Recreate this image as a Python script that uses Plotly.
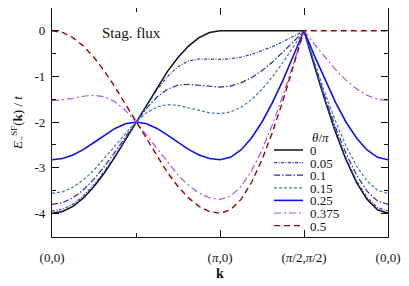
import plotly.graph_objects as go

# Path coordinate along (0,0) -> (pi,0) -> (pi/2,pi/2) -> (0,0), in units of pi per segment parameter
k_path = [0.0, 0.0625, 0.125, 0.1875, 0.25, 0.3125, 0.375, 0.4375, 0.5, 0.5625, 0.625, 0.6875,
          0.75, 0.8125, 0.875, 0.9375, 1.0, 1.0625, 1.125, 1.1875, 1.25, 1.3125, 1.375, 1.4375,
          1.5, 1.5625, 1.625, 1.6875, 1.75, 1.8125, 1.875, 1.9375, 2.0]

theta_labels = ["0", "0.05", "0.1", "0.15", "0.25", "0.375", "0.5"]

E_000 = [-4.000, -3.962, -3.848, -3.663, -3.414, -3.111, -2.765, -2.390, -2.000, -1.610, -1.235, -0.889,
         -0.586, -0.337, -0.152, -0.038, 0.000,
         0.000, 0.000, 0.000, 0.000, 0.000, 0.000, 0.000, 0.000,
         -0.780, -1.531, -2.222, -2.828, -3.326, -3.696, -3.923, -4.000]
E_005 = [-3.951, -3.913, -3.801, -3.618, -3.373, -3.076, -2.738, -2.374, -2.000, -1.633, -1.294, -1.004,
         -0.787, -0.663, -0.620, -0.621, -0.626,
         -0.614, -0.578, -0.520, -0.442, -0.348, -0.239, -0.122, 0.000,
         -0.771, -1.512, -2.195, -2.794, -3.285, -3.650, -3.875, -3.951]
E_010 = [-3.804, -3.768, -3.660, -3.485, -3.252, -2.972, -2.658, -2.327, -2.000, -1.700, -1.452, -1.280,
         -1.193, -1.176, -1.198, -1.225, -1.236,
         -1.212, -1.142, -1.028, -0.874, -0.687, -0.473, -0.241, 0.000,
         -0.742, -1.456, -2.114, -2.690, -3.163, -3.515, -3.731, -3.804]
E_015 = [-3.564, -3.530, -3.429, -3.267, -3.054, -2.801, -2.527, -2.252, -2.000, -1.799, -1.669, -1.619,
         -1.636, -1.690, -1.752, -1.799, -1.816,
         -1.781, -1.678, -1.510, -1.284, -1.009, -0.695, -0.354, 0.000,
         -0.695, -1.364, -1.980, -2.520, -2.963, -3.293, -3.496, -3.564]
E_025 = [-2.828, -2.801, -2.723, -2.601, -2.449, -2.288, -2.141, -2.038, -2.000, -2.038, -2.141, -2.288,
         -2.449, -2.601, -2.723, -2.801, -2.828,
         -2.774, -2.613, -2.352, -2.000, -1.571, -1.082, -0.552, 0.000,
         -0.552, -1.082, -1.571, -2.000, -2.352, -2.613, -2.774, -2.828]
E_0375 = [-1.531, -1.516, -1.479, -1.436, -1.414, -1.446, -1.556, -1.746, -2.000, -2.293, -2.598, -2.894,
          -3.162, -3.387, -3.555, -3.660, -3.696,
          -3.625, -3.414, -3.073, -2.613, -2.053, -1.414, -0.721, 0.000,
          -0.299, -0.586, -0.850, -1.082, -1.273, -1.414, -1.501, -1.531]
E_050 = [0.000, -0.038, -0.152, -0.337, -0.586, -0.889, -1.235, -1.610, -2.000, -2.390, -2.765, -3.111,
         -3.414, -3.663, -3.848, -3.962, -4.000,
         -3.923, -3.696, -3.326, -2.828, -2.222, -1.531, -0.780, 0.000,
         0.000, 0.000, 0.000, 0.000, 0.000, 0.000, 0.000, 0.000]

series = [E_000, E_005, E_010, E_015, E_025, E_0375, E_050]

x_tickvals = [0, 1, 1.5, 2]
x_ticktext = ["(0,0)", "(<i>π</i>,0)", "(<i>π</i>/2,<i>π</i>/2)", "(0,0)"]
y_tickvals = [0, -1, -2, -3, -4]
y_ticktext = ["0", "-1", "-2", "-3", "-4"]

styles = [
    dict(color="#111111", width=1.5, dash="solid"),
    dict(color="#3535d0", width=1.2, dash="3px,1.5px,1px,1.5px"),
    dict(color="#2a2ab0", width=1.2, dash="6px,2px,1.5px,2px"),
    dict(color="#3a78b8", width=1.2, dash="3px,2px"),
    dict(color="#0a14f0", width=1.6, dash="solid"),
    dict(color="#a64dff", width=1.2, dash="7px,3px,2px,3px"),
    dict(color="#a00000", width=1.4, dash="6px,4px"),
]

FONT = "Liberation Serif, DejaVu Serif, Times New Roman, serif"
fig = go.Figure()
for name, ys, st in zip(theta_labels, series, styles):
    fig.add_trace(go.Scatter(x=k_path, y=ys, mode="lines", name=name, line=st,
                             showlegend=False))

# page has an 8px body margin; figure offset accordingly
W, H = 393, 278
ML, MR, MT, MB = 44, 13, 0, 49
pw, ph = W - ML - MR, H - MT - MB
OFF = 8

def px_x(p):
    return (p - OFF - ML) / pw

def px_y(p):
    return (H - MB - (p - OFF)) / ph

# compact legend (drawn manually to match tight spacing)
leg_x0, leg_x1, leg_tx = 274, 303, 309
leg_top, leg_step = 150, 12.6
for i, (name, st) in enumerate(zip(theta_labels, styles)):
    yy = px_y(leg_top + i * leg_step)
    fig.add_shape(type="line", xref="paper", yref="paper", x0=px_x(leg_x0), x1=px_x(leg_x1),
                  y0=yy, y1=yy, line=st)
    fig.add_annotation(xref="paper", yref="paper", x=px_x(leg_tx), y=yy, text=name,
                       showarrow=False, xanchor="left", yanchor="middle", height=12, borderpad=0,
                       font=dict(family=FONT, size=13, color="#111"))
fig.add_annotation(xref="paper", yref="paper", x=px_x(320), y=px_y(137),
                   text="<i>θ</i>/<i>π</i>", showarrow=False, xanchor="center", yanchor="middle",
                   height=12, borderpad=0,
                   font=dict(family=FONT, size=13, color="#111"))
fig.add_annotation(xref="paper", yref="paper", x=px_x(131), y=px_y(33),
                   text="Stag. flux", showarrow=False, xanchor="center", yanchor="middle",
                   font=dict(family=FONT, size=15, color="#111"))
# x-axis title
fig.add_annotation(xref="paper", yref="paper", x=0.5, y=px_y(273),
                   text="<b>k</b>", showarrow=False, xanchor="center", yanchor="middle",
                   font=dict(family=FONT, size=14, color="#111"))

axis_common = dict(showgrid=False, zeroline=False, showline=True, linecolor="#111", linewidth=1.2,
                   mirror="ticks", ticks="inside", ticklen=7, tickwidth=1, tickcolor="#111",
                   automargin=False,
                   tickfont=dict(family=FONT, size=13, color="#111"))

fig.update_xaxes(range=[0, 2], tickmode="array", tickvals=x_tickvals, ticktext=x_ticktext,
                 ticklabelstandoff=8,
                 minor=dict(tickmode="array", tickvals=[0.5], ticks="inside", ticklen=4,
                            tickcolor="#111"),
                 **axis_common)
fig.update_yaxes(range=[-4.52, 0.498], tickmode="array", tickvals=y_tickvals, ticktext=y_ticktext,
                 ticklabelstandoff=3,
                 minor=dict(tickmode="array", tickvals=[-0.5, -1.5, -2.5, -3.5, -4.5],
                            ticks="inside", ticklen=4, tickcolor="#111"),
                 title=dict(text="<i>E</i><sub>−</sub><sup>SF</sup>(<b>k</b>) / <i>t</i>",
                            font=dict(family=FONT, size=13, color="#111"), standoff=8),
                 **axis_common)

fig.update_layout(width=W, height=H, margin=dict(l=ML, r=MR, t=MT, b=MB, autoexpand=False),
                  paper_bgcolor="white", plot_bgcolor="white", showlegend=False)

fig.write_html("out.html")
